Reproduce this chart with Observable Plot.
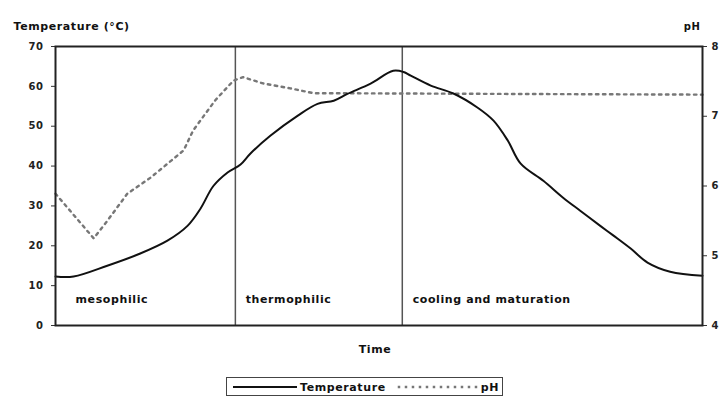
<!DOCTYPE html>
<html><head><meta charset="utf-8">
<script src="https://cdn.jsdelivr.net/npm/d3@7"></script>
<script src="https://cdn.jsdelivr.net/npm/@observablehq/plot@0.6"></script>
<style>
body{margin:0;background:#fff;font-family:"DejaVu Sans",Arial,sans-serif;}
#wrap{position:relative;width:720px;height:396px;overflow:hidden;}
#chart{position:absolute;left:0;top:0;}
#legend{position:absolute;left:226px;top:377px;}
#chart text{letter-spacing:0.6px;}
</style></head>
<body><div id="wrap"><div id="chart"></div><div id="legend"></div></div>
<script>
// Time (arbitrary units, 0-100) and temperature (°C)
const tempTime = [0, 2.8, 8, 13, 17.3, 20.4, 22.4, 24.4, 26.6, 28.6, 30.1, 33.2, 37.4, 40.5, 43, 45.1, 48.7, 52.2, 53.8, 54.9, 58, 61.5, 65.2, 67.7, 69.9, 71.9, 75.4, 78.5, 81.1, 84.2, 86.2, 88.9, 91.5, 95, 100];
const temperature = [12.3, 12.3, 15, 18, 21.3, 25, 29.3, 35, 38.4, 40.4, 43.1, 47.6, 52.6, 55.6, 56.4, 58.1, 60.7, 63.9, 63.6, 62.7, 60.2, 58.2, 54.7, 51.4, 46.4, 40.6, 36.3, 32, 28.8, 25, 22.6, 19.3, 15.8, 13.5, 12.5];
// Time and pH
const phTime = [0, 5.9, 8, 11.1, 14.7, 19.8, 21.3, 24.7, 27.5, 29, 32.1, 36.3, 39.9, 43.6, 70, 100];
const ph = [5.89, 5.25, 5.5, 5.89, 6.12, 6.51, 6.8, 7.23, 7.51, 7.56, 7.47, 7.40, 7.33, 7.33, 7.32, 7.31];
// Phase boundaries and labels
const phaseBounds = [27.8, 53.6];
const phaseStarts = [3.1, 29.4, 55.2];
const phaseLabels = ["mesophilic", "thermophilic", "cooling and maturation"];
// Axis ticks
const tempTicks = [0, 10, 20, 30, 40, 50, 60, 70];
const phTicks = [4, 5, 6, 7, 8];
const phMin = 4, phMax = 8, tMax = 70;
const phToT = p => (p - phMin) / (phMax - phMin) * tMax;

const tempData = tempTime.map((t, i) => ({t, v: temperature[i]}));
const phData = phTime.map((t, i) => ({t, v: ph[i]}));
const phaseData = phaseStarts.map((t, i) => ({t, label: phaseLabels[i]}));

const chart = Plot.plot({
  width: 720, height: 365,
  marginLeft: 55, marginRight: 18, marginTop: 46, marginBottom: 40,
  style: {fontFamily: "DejaVu Sans, Arial, sans-serif", fontSize: "10px", color: "#222", background: "transparent"},
  x: {domain: [0, 100], axis: null},
  y: {domain: [0, tMax], axis: null},
  marks: [
    Plot.ruleX(phaseBounds, {stroke: "#555", strokeWidth: 1.5}),
    Plot.axisY(tempTicks, {anchor: "left", tickSize: 4, tickPadding: 8, label: null, fontWeight: "bold", stroke: "#333"}),
    Plot.axisY(phTicks.map(phToT), {anchor: "right", tickSize: 4, tickPadding: 5, label: null, fontWeight: "bold", stroke: "#333", tickFormat: d => String(Math.round(d / tMax * (phMax - phMin) + phMin))}),
    Plot.line(phData, {x: "t", y: d => phToT(d.v), stroke: "#777", strokeWidth: 2.4, strokeDasharray: "2.5,4.5"}),
    Plot.line(tempData, {x: "t", y: "v", stroke: "#111", strokeWidth: 2, curve: "catmull-rom"}),
    Plot.text(phaseData, {x: "t", y: 6.5, text: "label", textAnchor: "start", fontWeight: "bold", fontSize: 11, fill: "#111"}),
    Plot.text(["Temperature (°C)"], {frameAnchor: "top-left", dx: -42, dy: -24, textAnchor: "start", fontWeight: "bold", fontSize: 11, fill: "#111"}),
    Plot.text(["pH"], {frameAnchor: "top-right", dx: -2, dy: -24, textAnchor: "end", fontWeight: "bold", fontSize: 10, fill: "#111"}),
    Plot.text(["Time"], {frameAnchor: "bottom", dy: 27, dx: -4, fontWeight: "bold", fontSize: 11, fill: "#111"}),
    Plot.frame({stroke: "#222", strokeWidth: 2})
  ]
});
document.getElementById("chart").appendChild(chart);

// Legend
const legendItems = [
  {label: "Temperature", stroke: "#111", dash: null, width: 2},
  {label: "pH", stroke: "#777", dash: "2.5,4.5", width: 2.4}
];
const lg = d3.select("#legend").append("svg").attr("width", 277).attr("height", 19)
  .style("font-family", "DejaVu Sans, Arial, sans-serif").style("font-size", "11px").style("font-weight", "bold").style("letter-spacing", "0.6px");
lg.append("rect").attr("x", 0.5).attr("y", 0.5).attr("width", 276).attr("height", 18).attr("fill", "#fff").attr("stroke", "#444");
let xpos = 7;
legendItems.forEach((it, i) => {
  const len = i === 0 ? 64 : 80;
  lg.append("line").attr("x1", xpos).attr("x2", xpos + len).attr("y1", 10).attr("y2", 10)
    .attr("stroke", it.stroke).attr("stroke-width", it.width).attr("stroke-dasharray", it.dash);
  const tx = lg.append("text").attr("x", xpos + len + 3).attr("y", 14).attr("fill", "#111").text(it.label);
  xpos = xpos + len + 3 + tx.node().getComputedTextLength() + 12;
});
</script>
</body></html>
